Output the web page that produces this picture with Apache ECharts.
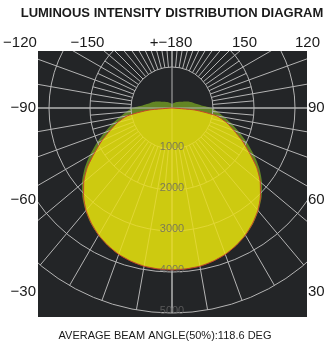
<!DOCTYPE html>
<html><head><meta charset="utf-8">
<script src="https://cdn.jsdelivr.net/npm/echarts@6/dist/echarts.min.js"></script>
<style>html,body{margin:0;padding:0;background:#fff}#c{width:336px;height:349px}</style>
</head><body><div id="c"></div>
<script>
const titleText = 'LUMINOUS INTENSITY DISTRIBUTION DIAGRAM';
const footerText = 'AVERAGE BEAM ANGLE(50%):118.6 DEG';
const angles = [-180,-175,-170,-165,-160,-155,-150,-145,-140,-135,-130,-125,-120,-115,-110,-105,-100,-95,
  -90,-85,-80,-75,-70,-65,-60,-55,-50,-45,-40,-35,-30,-25,-20,-15,-10,-5,0,
  5,10,15,20,25,30,35,40,45,50,55,60,65,70,75,80,85,90,
  95,100,105,110,115,120,125,130,135,140,145,150,155,160,165,170,175,180];
// C0-180 plane (yellow, red outline)
const c0 = [0,0,0,0,0,0,0,0,0,0,0,0,0,0,0,0,0,0,
  0,560,1110,1380,1610,1890,2180,2520,2810,3050,3260,3430,3580,3700,3800,3870,3920,3940,3950,
  3940,3920,3870,3800,3700,3580,3430,3260,3050,2810,2520,2180,1890,1610,1380,1110,560,0,
  0,0,0,0,0,0,0,0,0,0,0,0,0,0,0,0,0,0];
// C90-270 plane (green)
const c90 = [100,105,110,120,130,140,155,170,190,210,240,270,310,370,450,520,590,720,
  980,1120,1300,1520,1760,2030,2320,2610,2870,3090,3280,3450,3590,3700,3790,3850,3900,3920,3930,
  3920,3900,3850,3790,3700,3590,3450,3280,3090,2870,2610,2320,2030,1760,1520,1300,1120,980,
  720,590,520,450,370,310,270,240,210,190,170,155,140,130,120,110,105,100];
const radiusTicks = [1000,2000,3000,4000,5000];
const topLabels = ['\u2212120','\u2212150','+\u2212180','150','120'];
const leftLabels = ['\u221290','\u221260','\u221230'];
const rightLabels = ['90','60','30'];

const C = [172,108];
const PX = 41; // pixels per 1000 cd
const gridColor = '#b4b4b4';
const font = '"Liberation Sans", Arial, sans-serif';
const box = {x:38, y:51, w:269, h:266};

function ang(idx, interval, show){
  return {polarIndex:idx,type:'value',min:-180,max:180,interval:interval,startAngle:90,clockwise:false,
    axisLine:{show:false},axisTick:{show:false},axisLabel:{show:false},
    splitLine:{show:show,lineStyle:{color:gridColor,width:1}}};
}
function rad(idx, min, max, interval, split){
  return {polarIndex:idx,type:'value',min:min,max:max,interval:interval,
    axisLine:{show:false},axisTick:{show:false},axisLabel:{show:false},
    splitLine:{show:split,lineStyle:{color:gridColor,width:1}}};
}

const chart = echarts.init(document.getElementById('c'), null, {renderer:'canvas'});
const graphics = [];
graphics.push({type:'rect', z:-100, shape:{x:box.x,y:box.y,width:box.w,height:box.h}, style:{fill:'#232527'}});
// white masks outside the plot box
[[0,0,336,box.y],[0,0,box.x,349],[box.x+box.w,0,336-box.x-box.w,349],[0,box.y+box.h,336,349-box.y-box.h]].forEach(r=>{
  graphics.push({type:'rect', z:100, shape:{x:r[0],y:r[1],width:r[2],height:r[3]}, style:{fill:'#fff'}});
});
graphics.push({type:'text', z:101, style:{text:titleText, x:172, y:13, textAlign:'center', textVerticalAlign:'middle', font:'bold 13px '+font, fill:'#1a1a1a'}});
graphics.push({type:'text', z:101, style:{text:footerText, x:165, y:336, textAlign:'center', textVerticalAlign:'middle', font:'11px '+font, fill:'#1a1a1a'}});
const topX = [20, 87.5, 171, 244.5, 307.5];
topLabels.forEach((t,i)=>graphics.push({type:'text', z:101, style:{text:t, x:topX[i], y:43, textAlign:'center', textVerticalAlign:'middle', font:'15px '+font, fill:'#1a1a1a'}}));
const sideY = [108, 200, 292];
leftLabels.forEach((t,i)=>graphics.push({type:'text', z:101, style:{text:t, x:36, y:sideY[i], textAlign:'right', textVerticalAlign:'middle', font:'15px '+font, fill:'#1a1a1a'}}));
rightLabels.forEach((t,i)=>graphics.push({type:'text', z:101, style:{text:t, x:308, y:sideY[i], textAlign:'left', textVerticalAlign:'middle', font:'15px '+font, fill:'#1a1a1a'}}));

chart.setOption({
  backgroundColor:'#fff',
  animation:false,
  polar:[
    {center:C, radius:[PX, 2*PX]},
    {center:C, radius:[2*PX, 5*PX]},
    {center:C, radius:[0, 5*PX]}
  ],
  angleAxis:[ang(0,5,true), ang(1,10,true), ang(2,90,true)],
  radiusAxis:[rad(0,1000,2000,1000,false), rad(1,2000,5000,1000,false), rad(2,0,5000,1000,true)],
  series:[
    {type:'line', coordinateSystem:'polar', polarIndex:2, symbol:'none', smooth:0.2,
      data: angles.map((a,i)=>[c90[i], a]),
      lineStyle:{width:0, color:'#7a9628'}, areaStyle:{color:'rgba(110,150,36,0.85)', opacity:1}, z:-1},
    {type:'line', coordinateSystem:'polar', polarIndex:2, symbol:'none', smooth:0.2,
      data: angles.map((a,i)=>[c0[i], a]),
      lineStyle:{width:1, color:'#c4452c'}, areaStyle:{color:'rgba(240,225,10,0.75)', opacity:1}, z:3},
    {type:'scatter', coordinateSystem:'polar', polarIndex:2, symbolSize:1, itemStyle:{color:'rgba(0,0,0,0)'},
      data: radiusTicks.map(v=>[v,0]), silent:true, z:5,
      label:{show:true, position:'inside', offset:[0,-2], formatter:p=>String(p.value[0]), color:'#666', fontSize:11, fontFamily:'Liberation Sans'}}
  ],
  graphic:{elements:graphics}
});
</script></body></html>
